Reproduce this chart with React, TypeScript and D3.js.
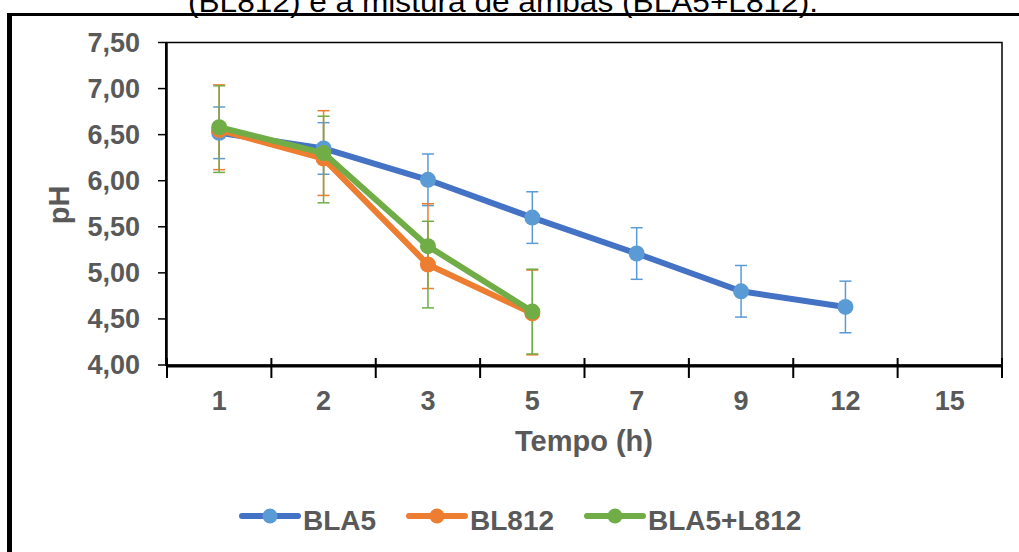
import React from "react";
import * as d3 from "d3";

// tempo (h) categories on the x axis
const categories = ["1", "2", "3", "5", "7", "9", "12", "15"];
const yTicks = [4, 4.5, 5, 5.5, 6, 6.5, 7, 7.5];

// BLA5 series
const bla5 = [6.52, 6.35, 6.01, 5.6, 5.21, 4.8, 4.63];
const bla5Err = [0.28, 0.28, 0.28, 0.28, 0.28, 0.28, 0.28];

// BL812 series
const bl812 = [6.55, 6.24, 5.09, 4.56];
const bl812Hi = [7.04, 6.76, 5.75, 5.03];
const bl812Lo = [6.12, 5.84, 4.83, 4.11];

// BLA5+L812 series
const mix = [6.58, 6.3, 5.29, 4.58];
const mixHi = [7.03, 6.7, 5.56, 5.04];
const mixLo = [6.09, 5.76, 4.62, 4.12];

const W = 1019;
const H = 552;
const font = "'Liberation Sans', Arial, sans-serif";
const grey = "#595959";

const series = [
  {
    name: "BLA5",
    line: "#4472C4",
    marker: "#5B9BD5",
    values: bla5,
    hi: bla5.map((v, i) => v + bla5Err[i]),
    lo: bla5.map((v, i) => v - bla5Err[i]),
  },
  { name: "BL812", line: "#ED7D31", marker: "#ED7D31", values: bl812, hi: bl812Hi, lo: bl812Lo },
  { name: "BLA5+L812", line: "#70AD47", marker: "#70AD47", values: mix, hi: mixHi, lo: mixLo },
];

export default function App() {
  const x = d3.scaleBand().domain(categories).range([167, 1002]).padding(0);
  const y = d3.scaleLinear().domain([4, 7.5]).range([365, 42.5]);
  const cx = (i: number) => (x(categories[i]) as number) + x.bandwidth() / 2;

  const line = d3
    .line<number>()
    .x((_, i) => cx(i))
    .y((d) => y(d));

  const edges = categories.map((c) => x(c) as number).concat([1002]);

  // legend layout
  const legendPos = [242, 409, 587];

  return (
    <svg
      width={W}
      height={H}
      style={{ position: "absolute", left: 0, top: 0, background: "#fff" }}
    >
      {/* caption cut off at the top */}
      <text
        x={503}
        y={12}
        textAnchor="middle"
        fontFamily={font}
        fontSize={30}
        fill="#000"
        textLength={630}
        lengthAdjust="spacingAndGlyphs"
      >
        (BL812) e a mistura de ambas (BLA5+L812).
      </text>

      {/* outer frame */}
      <line x1={9.5} x2={9.5} y1={13} y2={H} stroke="#000" strokeWidth={5} />
      <line x1={7} x2={W} y1={14.5} y2={14.5} stroke="#000" strokeWidth={3} />

      {/* plot box */}
      <rect
        x={167}
        y={42.5}
        width={1002 - 167}
        height={365 - 42.5}
        fill="none"
        stroke="#000"
        strokeWidth={1.5}
      />
      <line x1={166} x2={166} y1={42.5} y2={366} stroke="#000" strokeWidth={2} />
      <line x1={166} x2={1003} y1={366} y2={366} stroke="#000" strokeWidth={3} />

      {/* y axis ticks */}
      {yTicks.map((t) => (
        <g key={t}>
          <line x1={158} x2={167} y1={y(t)} y2={y(t)} stroke="#000" strokeWidth={1.5} />
          <text
            x={140}
            y={y(t)}
            dy="0.35em"
            textAnchor="end"
            fontFamily={font}
            fontWeight="bold"
            fontSize={27}
            fill={grey}
          >
            {d3.format(".2f")(t).replace(".", ",")}
          </text>
        </g>
      ))}

      {/* x axis ticks */}
      {edges.map((e, i) => (
        <line key={i} x1={e} x2={e} y1={358} y2={378} stroke="#000" strokeWidth={2} />
      ))}
      {categories.map((c, i) => (
        <text
          key={c}
          x={cx(i)}
          y={410}
          textAnchor="middle"
          fontFamily={font}
          fontWeight="bold"
          fontSize={27}
          fill={grey}
        >
          {c}
        </text>
      ))}

      {/* axis titles */}
      <text
        x={584}
        y={451}
        textAnchor="middle"
        fontFamily={font}
        fontWeight="bold"
        fontSize={29}
        fill={grey}
      >
        Tempo (h)
      </text>
      <text
        transform="translate(69,205) rotate(-90)"
        textAnchor="middle"
        fontFamily={font}
        fontWeight="bold"
        fontSize={29}
        fill={grey}
      >
        pH
      </text>

      {/* error bars */}
      {series.map((s) =>
        s.values.map((v, i) => (
          <g key={s.name + i} stroke={s.marker} strokeWidth={1.5}>
            <line x1={cx(i)} x2={cx(i)} y1={y(s.hi[i])} y2={y(s.lo[i])} />
            <line x1={cx(i) - 6} x2={cx(i) + 6} y1={y(s.hi[i])} y2={y(s.hi[i])} />
            <line x1={cx(i) - 6} x2={cx(i) + 6} y1={y(s.lo[i])} y2={y(s.lo[i])} />
          </g>
        ))
      )}

      {/* lines and markers */}
      {series.map((s) => (
        <g key={s.name}>
          <path
            d={line(s.values) || ""}
            fill="none"
            stroke={s.line}
            strokeWidth={6}
            strokeLinejoin="round"
          />
          {s.values.map((v, i) => (
            <circle key={i} cx={cx(i)} cy={y(v)} r={8} fill={s.marker} />
          ))}
        </g>
      ))}

      {/* legend */}
      {series.map((s, i) => (
        <g key={s.name} transform={`translate(${legendPos[i]},516)`}>
          <line x1={0} x2={56} y1={0} y2={0} stroke={s.line} strokeWidth={6} strokeLinecap="round" />
          <circle cx={28} cy={0} r={7.5} fill={s.marker} />
          <text
            x={61}
            y={14}
            fontFamily={font}
            fontWeight="bold"
            fontSize={28}
            fill={grey}
          >
            {s.name}
          </text>
        </g>
      ))}
    </svg>
  );
}
